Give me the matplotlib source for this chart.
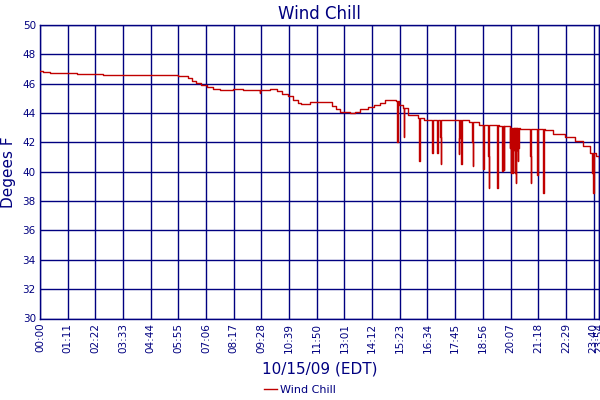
import matplotlib
matplotlib.use('Agg')
import matplotlib.pyplot as plt
import numpy as np

# baseline readings, minutes after midnight -> wind chill (F)
base_min = [0, 8, 25, 59, 95, 162, 353, 379, 390, 400, 412, 428, 443, 461,
            495, 520, 589, 607, 622, 635, 648, 661, 669, 692, 735, 748, 759,
            769, 795, 807, 820, 841, 858, 871, 886, 901, 912, 922, 932, 943,
            969, 986, 1038, 1051, 1101, 1127, 1178, 1205, 1231, 1295, 1316,
            1346, 1372, 1393, 1411, 1426, 1434]
base_val = [46.85, 46.77, 46.7, 46.72, 46.68, 46.6, 46.5, 46.4, 46.2, 46.05,
            45.9, 45.75, 45.65, 45.6, 45.65, 45.6, 45.65, 45.5, 45.3, 45.15,
            44.9, 44.7, 44.62, 44.75, 44.72, 44.45, 44.25, 44.05, 43.97, 44.1,
            44.3, 44.4, 44.55, 44.7, 44.9, 44.9, 44.8, 44.56, 44.35, 43.9,
            43.65, 43.5, 43.55, 43.5, 43.4, 43.2, 43.1, 43.0, 42.9, 42.85,
            42.6, 42.4, 42.1, 41.75, 41.3, 41.05, 40.95]

# short drops in the readings
drop_min = [564, 916, 917, 918, 933, 934, 972, 973, 974, 1005, 1006, 1019,
            1020, 1027, 1028, 1074, 1075, 1076, 1081, 1109, 1110, 1136, 1137,
            1150, 1151, 1152, 1173, 1186, 1187, 1190, 1205, 1207, 1208, 1210,
            1212, 1214, 1216, 1218, 1220, 1221, 1223, 1225, 1227, 1257, 1258,
            1259, 1276, 1290, 1291, 1292, 1293, 1415, 1417, 1419, 1420]
drop_val = [45.4, 42.8, 42.0, 42.8, 43.4, 42.35, 42.25, 40.7, 42.25, 42.4,
            41.25, 41.3, 42.4, 42.4, 40.5, 42.3, 41.2, 42.3, 40.5, 42.0, 40.4,
            41.6, 40.2, 41.1, 38.9, 41.1, 38.9, 40.05, 40.15, 40.1, 41.6, 41.5,
            39.9, 41.5, 39.9, 41.6, 41.5, 39.9, 41.5, 39.2, 41.5, 40.7, 41.6,
            41.05, 41.1, 39.2, 39.8, 41.4, 38.55, 39.7, 41.6, 39.9, 39.9, 38.55,
            39.9]

tick_min = list(range(0, 1350, 71)) + [1420, 1434]
tick_lab = ['%02d:%02d' % (m // 60, m % 60) for m in tick_min]

navy = '#000080'
red = '#C00000'

# merge baseline and drops into one step series
drops = dict(zip(drop_min, drop_val))
times = sorted(set(base_min) | set(drop_min) | {m + 1 for m in drop_min})
times = [t for t in times if t <= base_min[-1]]
bm = np.array(base_min)
vals = []
for t in times:
    if t in drops:
        vals.append(drops[t])
    else:
        vals.append(base_val[np.searchsorted(bm, t, side='right') - 1])

fig = plt.figure(figsize=(6, 4), dpi=100)
ax = fig.add_axes([40 / 600, 81.5 / 400, 559 / 600, 293.5 / 400])

ax.plot(times, vals, drawstyle='steps-post', color=red, linewidth=1.0,
        label='Wind Chill', zorder=3)

ax.set_xlim(0, 1434)
ax.set_ylim(30, 50)
ax.set_yticks(np.arange(30, 51, 2))
ax.set_xticks(tick_min)
ax.set_xticklabels(tick_lab, rotation=90)
ax.grid(True, color=navy, linewidth=1.0, zorder=1)
ax.set_axisbelow(True)
ax.tick_params(colors=navy, labelcolor=navy, labelsize=7.5, length=0, pad=3)
for s in ax.spines.values():
    s.set_color(navy)
    s.set_linewidth(1.0)

ax.set_title('Wind Chill', color=navy, fontsize=12, pad=4)
ax.set_ylabel('Degees F', color=navy, fontsize=11, labelpad=5)
ax.set_xlabel('10/15/09 (EDT)', color=navy, fontsize=11, labelpad=6)

leg = fig.legend(loc='center', bbox_to_anchor=(0.5, 0.025), frameon=False,
                 fontsize=8, handlelength=1.2, handletextpad=0.3)
for txt in leg.get_texts():
    txt.set_color(navy)

fig.savefig('out.png', dpi=100)
